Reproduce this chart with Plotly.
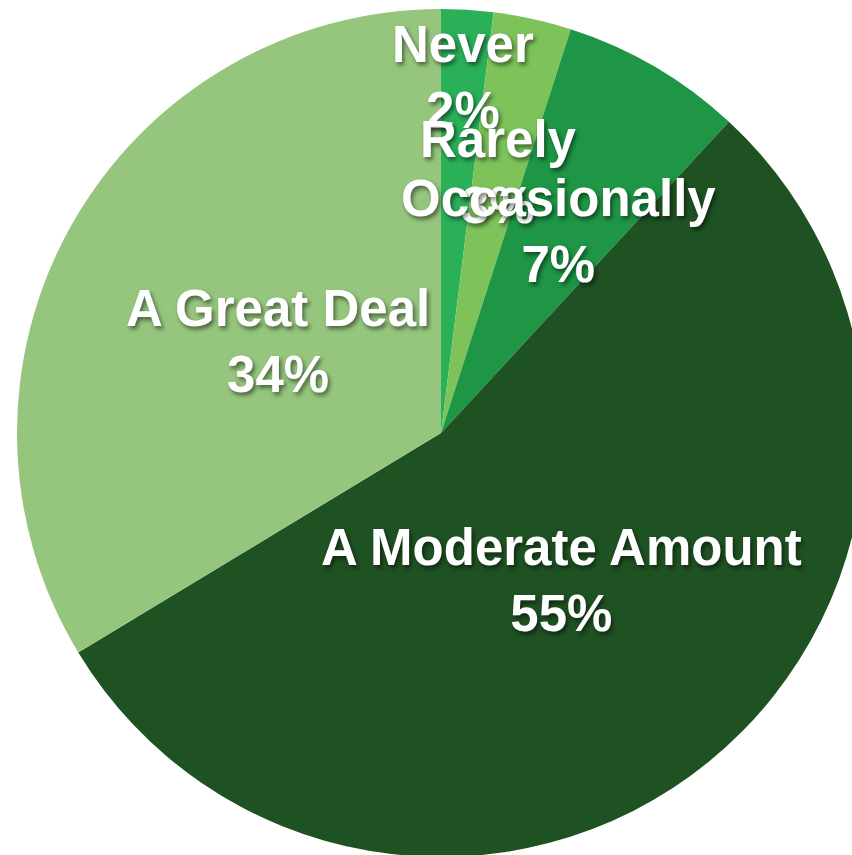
import math
import plotly.graph_objects as go

# Survey answers and their shares (percent)
categories = ["Never", "Rarely", "Occasionally", "A Moderate Amount", "A Great Deal"]
percent = [2, 3, 7, 55, 34]

# Styling
slice_colors = ["#2bb05a", "#7dc35a", "#1e9645", "#1f5223", "#96c67d"]
label_radius = [0.84, 0.63, 0.55, 0.45, 0.44]  # label distance as fraction of pie radius

W, H = 870, 860
cx, cy, R = 441, 433, 424  # pie centre / radius in pixels

fig = go.Figure(
    go.Pie(
        labels=categories,
        values=percent,
        sort=False,
        direction="clockwise",
        rotation=0,
        marker=dict(colors=slice_colors, line=dict(width=0)),
        textinfo="none",
        hoverinfo="label+value",
        domain=dict(x=[(cx - R) / W, (cx + R) / W],
                    y=[(H - cy - R) / H, (H - cy + R) / H]),
    )
)

# Slice labels placed along each slice's mid-angle
total = sum(percent)
start = 0.0
annotations = []
for cat, p, rf in zip(categories, percent, label_radius):
    sweep = 360.0 * p / total
    mid = math.radians(start + sweep / 2)
    start += sweep
    px = cx + rf * R * math.sin(mid)
    py = cy - rf * R * math.cos(mid)
    annotations.append(dict(
        x=px / W, y=1 - py / H, xref="paper", yref="paper",
        xanchor="center", yanchor="middle", showarrow=False,
        text=f"{cat}<br>{p}%",
        font=dict(family="Liberation Sans, Arial, Helvetica, sans-serif",
                  size=51, color="white", weight="bold",
                  shadow="2px 3px 4px rgba(0,0,0,0.5)"),
    ))

fig.update_layout(
    width=W, height=H,
    margin=dict(l=0, r=0, t=0, b=0),
    paper_bgcolor="white",
    showlegend=False,
    annotations=annotations,
)

fig.write_html(
    "out.html",
    post_script="document.body.style.margin='0';"
                "document.body.style.overflow='hidden';"
                "document.documentElement.style.overflow='hidden';",
)
